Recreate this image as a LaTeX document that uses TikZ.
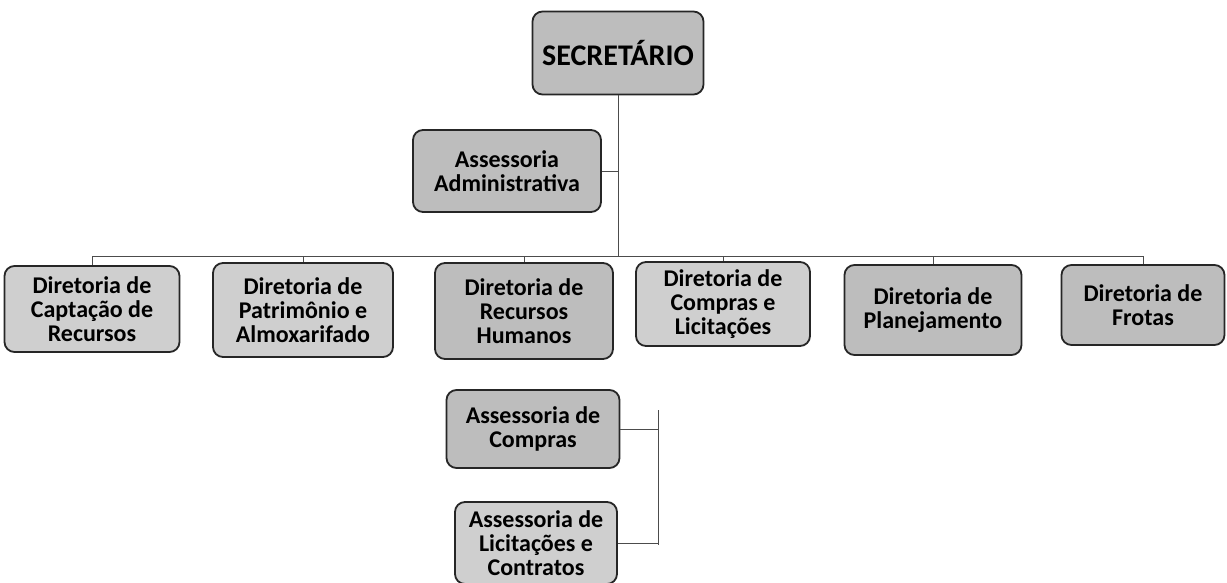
\documentclass[tikz,border=0pt]{standalone}
\usepackage{fontspec}
\setmainfont{Carlito}
\begin{document}
\begin{tikzpicture}[x=1pt,y=-1pt,
  box/.style={draw=black!85, line width=1.8pt, rounded corners=10pt, fill=gray!52,
    font=\bfseries\fontsize{24}{24}\selectfont, align=center, inner sep=0pt},
  light/.style={fill=gray!38},
  conn/.style={draw=black!70, line width=0.7pt}]
\useasboundingbox (0,0) rectangle (1227,583);

\node[box, minimum width=171pt, minimum height=83pt, font=\bfseries\fontsize{30}{30}\selectfont] (sec) at (618,53) {SECRETÁRIO};
\node[box, minimum width=188pt, minimum height=82pt] (aadm) at (507,171) {Assessoria\\Administrativa};

\node[box, light, minimum width=175pt, minimum height=86pt] (d1) at (92,309) {Diretoria de\\Captação de\\Recursos};
\node[box, light, minimum width=180pt, minimum height=94pt] (d2) at (303,310) {Diretoria de\\Patrimônio e\\Almoxarifado};
\node[box, minimum width=178pt, minimum height=96pt] (d3) at (524,311) {Diretoria de\\Recursos\\Humanos};
\node[box, light, minimum width=174pt, minimum height=84pt] (d4) at (723,304) {Diretoria de\\Compras e\\Licitações};
\node[box, minimum width=177pt, minimum height=90pt] (d5) at (933,310) {Diretoria de\\Planejamento};
\node[box, minimum width=163pt, minimum height=80pt] (d6) at (1143,305) {Diretoria de\\Frotas};

\node[box, minimum width=173pt, minimum height=78pt] (acomp) at (533,429) {Assessoria de\\Compras};
\node[box, light, minimum width=162pt, minimum height=82pt] (alic) at (536,543) {Assessoria de\\Licitações e\\Contratos};

\coordinate (barL) at (92,256);
\coordinate (barR) at (1143,256);
\draw[conn] (sec.south) -- (sec.south |- barL);
\draw[conn] (aadm.east) -- (aadm.east -| sec.south);
\draw[conn] (barL) -- (barR);
\foreach \d in {d1,d2,d3,d4,d5,d6} \draw[conn] (\d.north |- barL) -- (\d.north);

\coordinate (svt) at (658,410);
\coordinate (svb) at (658,545);
\draw[conn] (svt) -- (svb);
\draw[conn] (acomp.east) -- (acomp.east -| svt);
\draw[conn] (alic.east) -- (alic.east -| svb);
\end{tikzpicture}
\end{document}
